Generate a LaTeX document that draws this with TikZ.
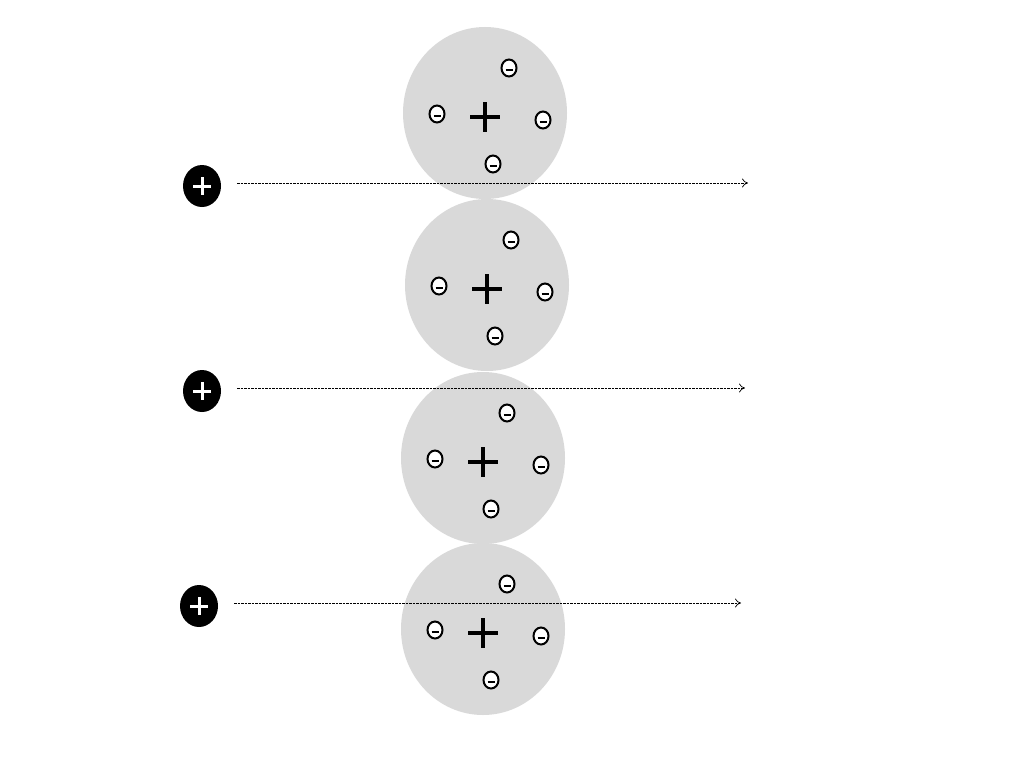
\documentclass[tikz,border=0pt]{standalone}
\usetikzlibrary{shapes.geometric,arrows.meta}
\begin{document}
\begin{tikzpicture}[x=1pt,y=-1pt,
  elec/.style={draw=black,line width=2pt,fill=white,ellipse,minimum width=15pt,minimum height=17pt,inner sep=0pt},
  ion/.style={fill=black,ellipse,minimum width=38pt,minimum height=42pt,inner sep=0pt},
  path/.style={dash pattern=on 2.5pt off 1pt,line width=0.7pt,-{To[length=6pt,width=9pt]}}]
\useasboundingbox (0,0) rectangle (1024,768);
\foreach \n/\cx/\cy in {1/485/113,2/487/285,3/483/458,4/483/629}{
  \fill[gray!30] (\cx,\cy) ellipse [x radius=82, y radius=86];
  \draw[line width=4.5pt] (\cx-15,\cy+4) -- (\cx+15,\cy+4) (\cx,\cy-11) -- (\cx,\cy+19);
  \foreach \dx/\dy [count=\k] in {24/-45,-48/1,58/7,8/51}{
    \node[elec] (e\n\k) at (\cx+\dx,\cy+\dy) {};
    \draw[line width=1.4pt] (\cx+\dx-3.5,\cy+\dy+2) -- (\cx+\dx+3.5,\cy+\dy+2);
  }
}
\foreach \n/\px/\py/\ex in {1/202/186/748,2/202/391/745,3/199/606/741}{
  \node[ion] (p\n) at (\px,\py) {};
  \draw[white,line width=3pt] (\px-9,\py) -- (\px+9,\py) (\px,\py-9) -- (\px,\py+9);
  \coordinate (s\n) at (\px+35,\py-3);
  \coordinate (t\n) at (\ex,\py-3);
  \draw[path] (s\n) -- (t\n);
}
\end{tikzpicture}
\end{document}
